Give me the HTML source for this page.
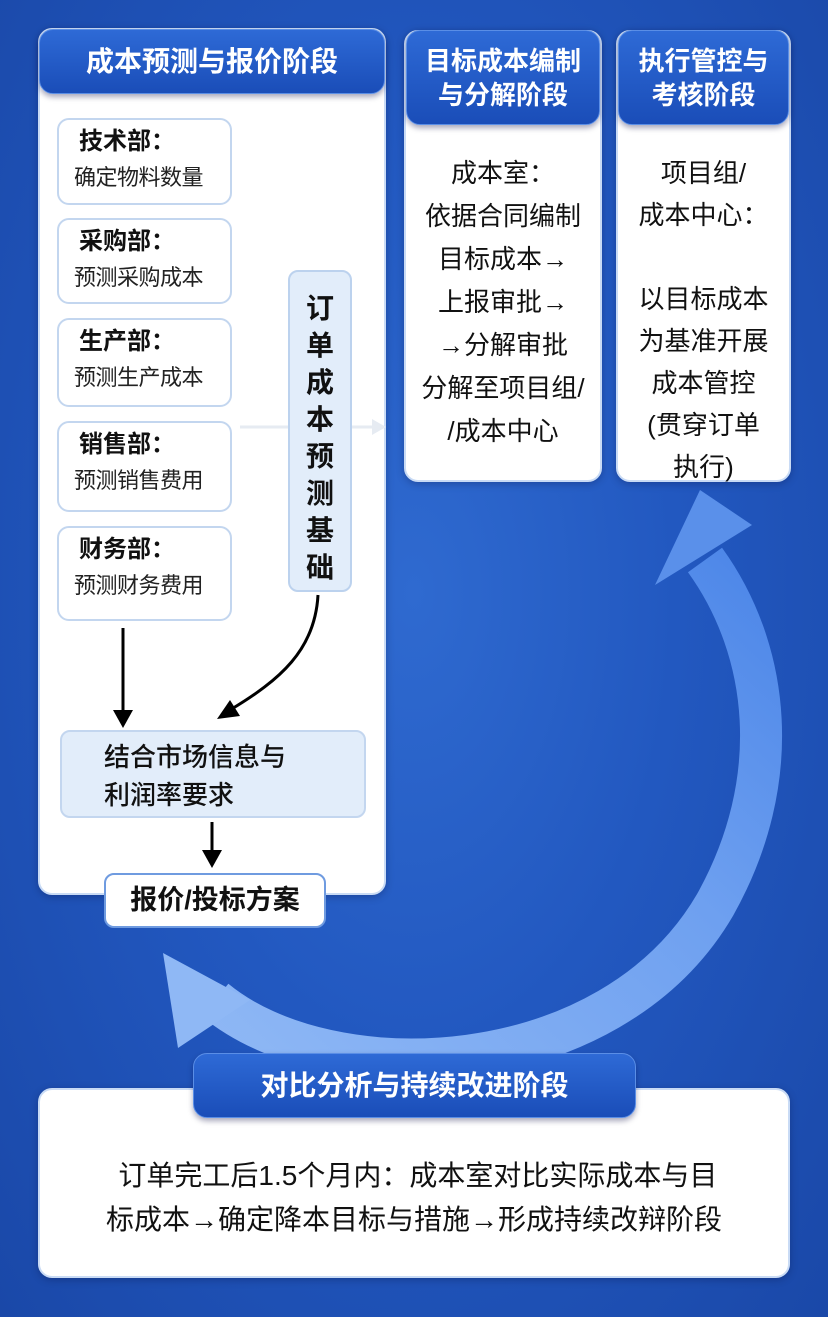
<!DOCTYPE html>
<html><head><meta charset="utf-8"><style>
*{margin:0;padding:0;box-sizing:border-box}
body{width:828px;height:1317px;overflow:hidden;position:relative;font-family:"Liberation Sans","Noto Sans CJK SC",sans-serif;background:radial-gradient(ellipse at 50% 45%,#2f6ad0 0%,#2258c0 45%,#1a48a8 100%);}
.abs{position:absolute}
.panel{position:absolute;background:#fff;border-radius:14px;border:2px solid #c9dbf5;box-shadow:0 2px 8px rgba(0,0,40,.25)}
.hdr{position:absolute;border-radius:14px;background:linear-gradient(180deg,#2e6ad6,#1a4db8);color:#fff;font-weight:bold;text-align:center;box-shadow:0 3px 6px rgba(0,0,60,.35);border:1px solid #5a8ee6}
.dept{position:absolute;left:57px;width:175px;background:#fff;border:2px solid #c3d6ef;border-radius:12px;padding-left:16px}
.dept b{display:block;font-size:24px;margin-top:6px;margin-left:4px;color:#111;line-height:32px}
.dept span{display:block;font-size:22px;color:#222;margin-left:-1px;margin-top:2px;letter-spacing:-0.5px}
.col{position:absolute;text-align:center;font-size:26px;color:#111;line-height:43px}
</style></head><body>
<svg class="abs" style="left:0;top:0" width="828" height="1317">
<defs><linearGradient id="g" x1="0" y1="1" x2="1" y2="0"><stop offset="0" stop-color="#8fb8f5"/><stop offset=".6" stop-color="#6ea0f0"/><stop offset="1" stop-color="#4c86e8"/></linearGradient></defs>
<path d="M215 1000 C330 1095 610 1085 715 905 C785 780 770 650 705 560" fill="none" stroke="url(#g)" stroke-width="42"/>
<polygon points="700,490 655,585 752,525" fill="#5a90ea"/>
<polygon points="163,953 178,1048 250,1000" fill="#8fb8f5"/>
</svg>
<div class="panel" style="left:38px;top:28px;width:348px;height:867px"></div>
<div class="hdr" style="left:39px;top:29px;width:346px;height:65px;font-size:28px;line-height:63px">成本预测与报价阶段</div>
<svg class="abs" style="left:0;top:0" width="828" height="1317">
<line x1="240" y1="427" x2="378" y2="427" stroke="#e6ebf2" stroke-width="3"/>
<polygon points="386,427 372,419 372,435" fill="#e6ebf2"/>
</svg>
<div class="dept" style="top:118px;height:87px"><b>技术部：</b><span>确定物料数量</span></div>
<div class="dept" style="top:218px;height:86px"><b>采购部：</b><span>预测采购成本</span></div>
<div class="dept" style="top:318px;height:89px"><b>生产部：</b><span>预测生产成本</span></div>
<div class="dept" style="top:421px;height:91px"><b>销售部：</b><span>预测销售费用</span></div>
<div class="dept" style="top:526px;height:95px"><b>财务部：</b><span>预测财务费用</span></div>
<div class="abs" style="left:288px;top:270px;width:64px;height:322px;background:#e2edfa;border:2px solid #bcd2ee;border-radius:10px;font-size:28px;font-weight:bold;line-height:37px;text-align:center;padding-top:18px;color:#111">订<br>单<br>成<br>本<br>预<br>测<br>基<br>础</div>
<svg class="abs" style="left:0;top:0" width="828" height="1317">
<line x1="123" y1="628" x2="123" y2="712" stroke="#000" stroke-width="3"/>
<polygon points="123,728 113,710 133,710" fill="#000"/>
<path d="M318 595 C315 650 280 680 230 710" fill="none" stroke="#000" stroke-width="3"/>
<polygon points="217,719 230,700 240,716" fill="#000"/>
<line x1="212" y1="822" x2="212" y2="852" stroke="#000" stroke-width="3"/>
<polygon points="212,868 202,850 222,850" fill="#000"/>
</svg>
<div class="abs" style="left:60px;top:730px;width:306px;height:88px;background:#e2edfa;border:2px solid #c3d6ef;border-radius:10px;font-size:26px;line-height:38px;padding:6px 0 0 42px;color:#111;font-weight:500">结合市场信息与<br>利润率要求</div>
<div class="abs" style="left:104px;top:873px;width:222px;height:55px;background:#fff;border:2px solid #6f9be0;border-radius:10px;font-size:27px;font-weight:bold;line-height:51px;text-align:center;color:#111">报价/投标方案</div>

<div class="panel" style="left:404px;top:30px;width:198px;height:452px"></div>
<div class="hdr" style="left:406px;top:30px;width:194px;height:95px;font-size:26px;line-height:34px;padding-top:13px">目标成本编制<br>与分解阶段</div>
<div class="col" style="left:400px;top:152px;width:206px">成本室：<br>依据合同编制<br>目标成本→<br>上报审批→<br>→分解审批<br>分解至项目组/<br>/成本中心</div>

<div class="panel" style="left:616px;top:30px;width:175px;height:452px"></div>
<div class="hdr" style="left:618px;top:30px;width:171px;height:95px;font-size:26px;line-height:34px;padding-top:13px">执行管控与<br>考核阶段</div>
<div class="col" style="left:616px;top:152px;width:175px;line-height:42px">项目组/<br>成本中心：<br><br>以目标成本<br>为基准开展<br>成本管控<br>(贯穿订单<br>执行)</div>

<div class="panel" style="left:38px;top:1088px;width:752px;height:190px"></div>
<div class="hdr" style="left:193px;top:1053px;width:443px;height:65px;font-size:28px;line-height:63px">对比分析与持续改进阶段</div>
<div class="abs" style="left:40px;top:1154px;width:748px;text-align:center;font-size:28px;line-height:44px;color:#111;letter-spacing:0px">&nbsp;订单完工后1.5个月内：成本室对比实际成本与目<br>标成本→确定降本目标与措施→形成持续改辩阶段</div>
</body></html>
